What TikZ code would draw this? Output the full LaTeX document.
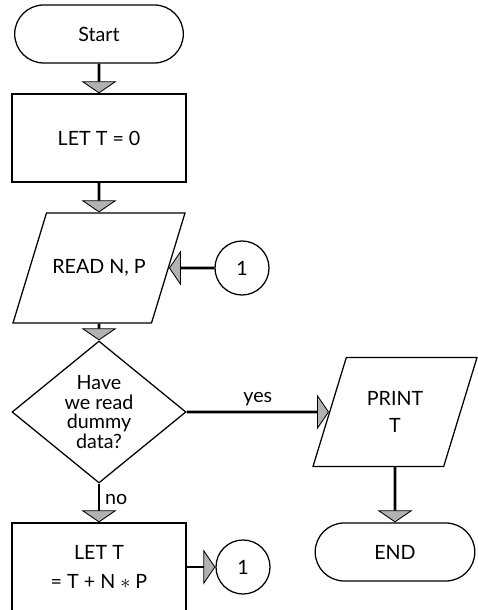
\documentclass[tikz,border=0pt]{standalone}
\usepackage{fontspec}
\setmainfont{Lato}
\usetikzlibrary{shapes.geometric,shapes.misc,arrows.meta,positioning}
\tikzstyle{term} = [rounded rectangle, draw, line width=0.9pt,
    minimum width=4.45cm, minimum height=1.45cm]
\tikzstyle{block} = [rectangle, draw, line width=0.9pt, align=center,
    minimum width=4.35cm, minimum height=2.2cm]
\tikzstyle{io} = [trapezium, trapezium left angle=73, trapezium right angle=107,
    trapezium stretches body=true, draw, line width=0.9pt, align=center,
    inner ysep=33pt, minimum width=4.3cm, minimum height=2.75cm]
\tikzstyle{decision} = [diamond, draw, line width=0.9pt, align=center,
    minimum width=4.35cm, minimum height=2.8cm, inner sep=0pt,
    font=\fontsize{14}{14}\selectfont]
\tikzstyle{conn} = [circle, draw, line width=0.9pt, minimum size=1.35cm, inner sep=0pt]
\tikzstyle{line} = [draw, line width=2pt,
    -{Triangle[width=0.875cm, length=0.3cm, fill=gray!60, line width=0.6pt]}]

\begin{document}
\begin{tikzpicture}[node distance=3cm,auto,font=\fontsize{14}{19.5}\selectfont]
    \useasboundingbox (0,0) rectangle (11.925,15.25);
    % Place nodes
    \node [term] at (2.475,14.4) (start) {Start};
    \node [block, below of=start, node distance=2.6cm] (init) {LET T = 0};
    \node [io, below of=init, node distance=3.25cm] (read) {READ N, P};
    \node [decision, below of=read, node distance=3.6cm] (decide) {Have\\we read\\dummy\\data?};
    \node [block, below of=decide, node distance=3.875cm, font=\fontsize{14}{20.6}\selectfont] (sum) {LET T\\= T + N $\ast$ P};
    \node [conn, right of=read, node distance=3.575cm] (ca) {1};
    \node [conn, right of=sum, node distance=3.6cm] (cb) {1};
    \node [io, right of=decide, node distance=7.4cm, inner ysep=24pt, minimum width=4.1cm, minimum height=2.7cm] (print) {PRINT\\T};
    \node [term, below of=print, node distance=3.5cm, minimum width=4.225cm] (end) {END};

    % Draw edges
    \path [line] (start) -- (init);
    \path [line] (init) -- (read);
    \path [line] (read) -- (decide);
    \path [line] (ca) -- (read);
    \path [line] (decide) -- node [above] {yes} (print);
    \path [line] (decide) -- node [right, pos=0.4] {no} (sum);
    \path [line] (sum) -- (cb);
    \path [line] (print) -- (end);
\end{tikzpicture}
\end{document}
